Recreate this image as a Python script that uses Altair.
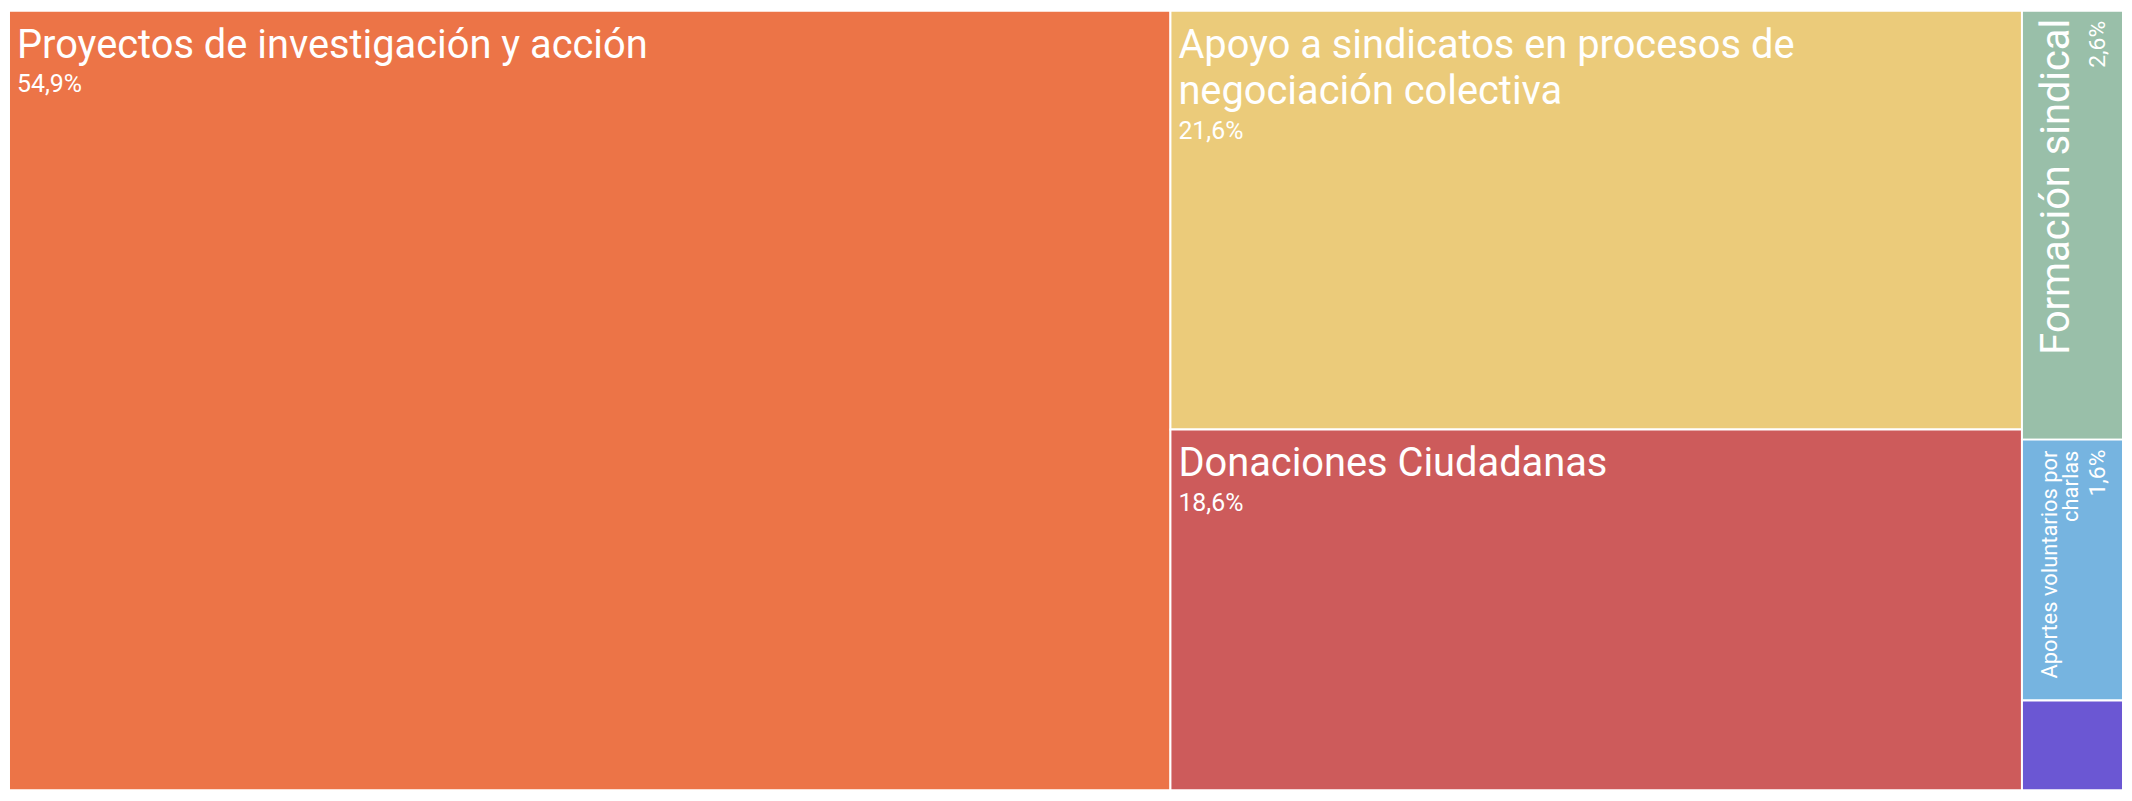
import altair as alt
import pandas as pd

# ---- data ----
categories = [
    "Proyectos de investigación y acción",
    "Apoyo a sindicatos en procesos de\nnegociación colectiva",
    "Donaciones Ciudadanas",
    "Formación sindical",
    "Aportes voluntarios por\ncharlas",
    "Otros",
]
values = [54.94, 21.64, 18.64, 2.63, 1.60, 0.55]
# treemap column (squarified layout groups) each tile belongs to
columns = [1, 2, 2, 3, 3, 3]

palette = ["#ec7447", "#ebcb7a", "#cd5b5b", "#99bfa9", "#76b4e0", "#6b57d3"]

df = pd.DataFrame({
    "label": categories,
    "value": values,
    "col": columns,
    "order": list(range(len(categories))),
})

base = (
    alt.Chart(df)
    .transform_joinaggregate(total="sum(value)")
    .transform_joinaggregate(col_total="sum(value)", groupby=["col"])
    .transform_window(cum="sum(value)", sort=[alt.SortField("order")], frame=[None, 0])
    .transform_joinaggregate(x_end="max(cum)", groupby=["col"])
    .transform_window(y_cum="sum(value)", groupby=["col"], sort=[alt.SortField("order")], frame=[None, 0])
    .transform_calculate(
        x_start="datum.x_end - datum.col_total",
        y_start="(datum.y_cum - datum.value) / datum.col_total",
        y_end="datum.y_cum / datum.col_total",
        share="datum.value / datum.total * 100",
        colshare="datum.col_total / datum.total * 100",
        pct="replace(format(datum.value / datum.total * 100, '.1f'), '.', ',') + '%'",
        nlines="length(split(datum.label, '\\n'))",
    )
)

xs = alt.X("x_start:Q", axis=None, scale=alt.Scale(nice=False, zero=True))
ys = alt.Y("y_start:Q", axis=None, scale=alt.Scale(nice=False, zero=True, reverse=True))

rects = base.mark_rect(stroke="white", strokeWidth=2).encode(
    x=xs,
    x2="x_end:Q",
    y=ys,
    y2="y_end:Q",
    color=alt.Color("label:N", scale=alt.Scale(domain=categories, range=palette), legend=None),
)

wide = "datum.colshare >= 10"
narrow = "datum.colshare < 10 && datum.share >= 1"

h_label = base.transform_filter(wide).mark_text(
    align="left", baseline="alphabetic", dx=8, dy=47,
    fontSize=40, lineHeight=47, lineBreak="\n", color="white", font="Roboto",
).encode(x=xs, y=ys, text="label:N")

h_pct1 = base.transform_filter(wide + " && datum.nlines == 1").mark_text(
    align="left", baseline="alphabetic", dx=8, dy=82,
    fontSize=25, color="white", font="Roboto",
).encode(x=xs, y=ys, text="pct:N")

h_pct2 = base.transform_filter(wide + " && datum.nlines == 2").mark_text(
    align="left", baseline="alphabetic", dx=8, dy=129,
    fontSize=25, color="white", font="Roboto",
).encode(x=xs, y=ys, text="pct:N")

v_label1 = base.transform_filter(narrow + " && datum.nlines == 1").mark_text(
    angle=270, align="right", baseline="alphabetic", dx=-8, dy=47,
    fontSize=40, color="white", font="Roboto",
).encode(x=xs, y=ys, text="label:N")

v_label2 = base.transform_filter(narrow + " && datum.nlines == 2").mark_text(
    angle=270, align="right", baseline="alphabetic", dx=-11, dy=35,
    fontSize=22, lineHeight=21, lineBreak="\n", color="white", font="Roboto",
).encode(x=xs, y=ys, text="label:N")

v_pct = base.transform_filter(narrow).mark_text(
    angle=270, align="right", baseline="alphabetic", dx=-10, dy=83,
    fontSize=23, color="white", font="Roboto",
).encode(x=xs, y=ys, text="pct:N")

chart = (
    alt.layer(rects, h_label, h_pct1, h_pct2, v_label1, v_label2, v_pct)
    .properties(width=2124, height=783, padding=0, background="white")
    .configure_view(stroke=None)
    .configure_text(font="Roboto")
)

chart.save("out.html", embed_options={"renderer": "svg", "actions": False})
